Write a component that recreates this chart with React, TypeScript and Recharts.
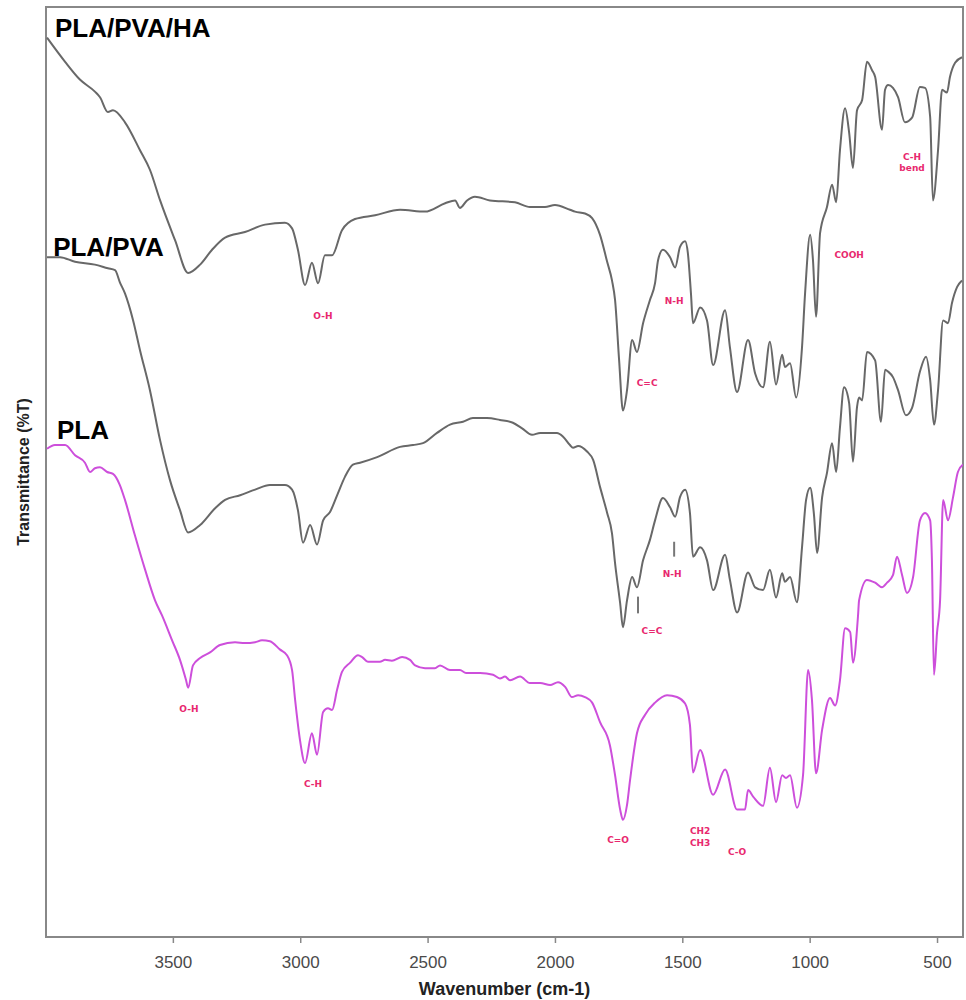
import React from 'react';
import { LineChart, Line, XAxis, YAxis, ReferenceArea, ReferenceDot, ReferenceLine } from 'recharts';

// PLA/PVA/HA spectrum (top)
const wnHA = [3996, 3925, 3867, 3808, 3788, 3757, 3737, 3690, 3631, 3592, 3552, 3493, 3442, 3395, 3348, 3297, 3219, 3140, 3062, 3034, 3011, 2983, 2956, 2932, 2905, 2877, 2838, 2787, 2708, 2610, 2512, 2433, 2394, 2375, 2347, 2316, 2257, 2159, 2100, 2041, 2002, 1943, 1923, 1884, 1856, 1825, 1797, 1778, 1766, 1750, 1735, 1719, 1699, 1680, 1656, 1629, 1609, 1597, 1578, 1550, 1530, 1511, 1491, 1480, 1468, 1460, 1432, 1405, 1381, 1334, 1315, 1287, 1244, 1216, 1185, 1158, 1134, 1110, 1099, 1079, 1055, 1032, 1020, 1000, 989, 977, 961, 934, 914, 898, 883, 863, 847, 832, 816, 796, 777, 757, 745, 718, 706, 694, 675, 655, 628, 600, 569, 549, 529, 518, 498, 482, 463, 451, 431, 404];
const tHA = [96.7, 94.1, 92.2, 90.9, 90.3, 88.7, 88.9, 87.6, 84.6, 82.5, 79.2, 74.9, 71.4, 72.3, 73.9, 75.2, 75.8, 76.6, 76.8, 76.2, 73.9, 70.1, 72.5, 70.3, 73.3, 73.3, 76.0, 77.2, 77.6, 78.2, 78.0, 78.9, 79.2, 78.4, 79.2, 79.6, 79.2, 79.0, 78.5, 78.5, 78.7, 78.2, 78.0, 77.8, 77.3, 75.5, 72.6, 70.6, 68.5, 62.0, 56.6, 58.8, 64.2, 62.9, 66.0, 68.5, 70.3, 72.8, 73.9, 73.1, 72.0, 74.2, 74.8, 73.5, 69.2, 66.0, 67.7, 66.3, 61.5, 67.4, 63.4, 58.6, 64.2, 60.6, 59.1, 64.0, 59.4, 62.6, 61.3, 61.7, 58.0, 63.4, 69.2, 75.5, 72.8, 66.7, 75.7, 78.5, 80.9, 79.0, 84.6, 89.1, 86.5, 82.7, 88.9, 90.0, 94.1, 93.2, 92.5, 86.8, 91.1, 91.6, 91.3, 90.3, 87.6, 88.1, 91.4, 91.3, 88.2, 79.2, 84.6, 91.1, 90.8, 92.5, 94.0, 94.6];

// PLA/PVA spectrum (middle)
const wnPVA = [3996, 3945, 3886, 3808, 3757, 3729, 3710, 3690, 3658, 3631, 3592, 3552, 3513, 3474, 3442, 3395, 3336, 3297, 3238, 3179, 3121, 3062, 3034, 3011, 2991, 2963, 2936, 2912, 2885, 2854, 2826, 2795, 2767, 2700, 2610, 2559, 2520, 2465, 2414, 2363, 2324, 2269, 2218, 2167, 2131, 2092, 2060, 1994, 1970, 1943, 1931, 1911, 1876, 1852, 1825, 1797, 1778, 1766, 1746, 1735, 1719, 1699, 1680, 1656, 1629, 1609, 1578, 1550, 1530, 1511, 1491, 1472, 1460, 1432, 1405, 1381, 1334, 1315, 1287, 1244, 1216, 1185, 1158, 1134, 1110, 1099, 1079, 1052, 1032, 1016, 1000, 985, 973, 953, 934, 914, 898, 883, 867, 847, 832, 816, 808, 796, 777, 745, 722, 706, 694, 675, 655, 624, 600, 569, 545, 529, 514, 498, 478, 459, 443, 423, 404];
const tPVA = [73.1, 73.1, 72.6, 72.3, 71.9, 71.7, 70.4, 69.2, 66.3, 63.1, 58.8, 53.4, 49.1, 45.9, 43.5, 44.3, 46.1, 47.0, 47.5, 48.1, 48.6, 48.6, 48.1, 45.9, 42.4, 44.3, 42.2, 44.8, 45.7, 47.7, 49.5, 50.8, 51.0, 51.6, 52.7, 52.9, 53.1, 54.2, 55.1, 55.4, 55.8, 55.8, 55.6, 55.3, 54.7, 54.0, 54.2, 54.2, 53.8, 52.9, 52.6, 52.8, 52.2, 51.3, 48.4, 45.6, 43.4, 40.2, 35.9, 33.3, 36.2, 38.7, 37.6, 40.5, 42.7, 44.8, 47.2, 46.2, 45.2, 47.3, 48.1, 45.6, 40.9, 41.9, 40.5, 37.3, 41.1, 38.4, 34.9, 39.2, 37.6, 37.3, 39.5, 36.5, 39.1, 38.2, 38.7, 36.0, 41.9, 47.0, 48.3, 45.4, 41.3, 47.3, 49.9, 53.1, 50.0, 54.8, 59.1, 57.4, 51.1, 57.0, 58.0, 57.7, 62.9, 62.0, 55.4, 61.0, 60.8, 60.2, 58.8, 56.1, 56.9, 60.8, 62.4, 59.9, 55.1, 58.8, 66.3, 66.0, 68.2, 69.9, 70.6];

// PLA spectrum (bottom)
const wnPLA = [3996, 3965, 3925, 3886, 3847, 3827, 3808, 3788, 3760, 3737, 3710, 3690, 3651, 3611, 3572, 3545, 3505, 3474, 3450, 3442, 3423, 3395, 3356, 3317, 3258, 3219, 3179, 3152, 3121, 3081, 3054, 3034, 3022, 3003, 2983, 2956, 2936, 2912, 2893, 2877, 2857, 2838, 2806, 2775, 2759, 2736, 2689, 2669, 2642, 2602, 2571, 2551, 2512, 2473, 2453, 2414, 2375, 2351, 2296, 2245, 2218, 2198, 2178, 2139, 2100, 2060, 2021, 1990, 1962, 1935, 1911, 1884, 1856, 1825, 1786, 1766, 1746, 1735, 1719, 1707, 1680, 1648, 1609, 1562, 1523, 1491, 1472, 1460, 1432, 1381, 1334, 1287, 1256, 1244, 1224, 1185, 1158, 1134, 1110, 1095, 1079, 1052, 1028, 1008, 993, 977, 953, 922, 902, 883, 863, 843, 832, 812, 808, 777, 745, 718, 698, 675, 659, 639, 620, 596, 569, 549, 529, 522, 514, 502, 490, 478, 459, 439, 420, 400];
const tPLA = [52.5, 52.9, 52.9, 51.8, 51.0, 50.0, 50.4, 50.5, 50.0, 49.8, 48.6, 47.0, 43.2, 39.5, 36.2, 34.6, 31.9, 29.8, 27.6, 26.8, 29.2, 30.0, 30.6, 31.4, 31.7, 31.6, 31.7, 31.9, 31.8, 30.9, 30.3, 28.7, 25.5, 21.2, 18.7, 21.9, 19.6, 24.2, 24.6, 24.4, 26.6, 28.5, 29.5, 30.3, 30.1, 29.6, 29.6, 29.8, 29.7, 30.1, 29.8, 29.2, 28.9, 28.9, 29.2, 28.7, 28.7, 28.4, 28.4, 28.2, 27.8, 28.0, 27.6, 28.0, 27.3, 27.3, 27.1, 27.4, 26.9, 25.8, 26.0, 25.8, 25.2, 23.1, 20.6, 17.4, 13.7, 12.6, 14.2, 16.9, 21.9, 23.9, 25.2, 26.0, 25.8, 25.1, 22.8, 17.7, 20.1, 15.3, 18.0, 13.7, 13.7, 15.8, 15.1, 14.1, 18.2, 14.5, 17.4, 17.1, 17.4, 13.9, 17.4, 28.7, 25.5, 17.6, 22.3, 25.7, 24.9, 27.6, 33.2, 32.8, 29.5, 34.6, 36.2, 38.4, 38.1, 37.6, 38.1, 38.9, 40.9, 38.9, 37.0, 38.7, 44.8, 45.6, 44.8, 40.5, 28.2, 32.7, 36.2, 47.0, 44.8, 47.3, 50.0, 50.8];

const xTicks = [3500, 3000, 2500, 2000, 1500, 1000, 500];

// Curve names
const seriesNames = ['PLA/PVA/HA', 'PLA/PVA', 'PLA'];
const nameWn = [3965, 3972, 3957];
const nameT = [97.8, 74.2, 54.5];

// Band annotations
const bandText = ['O-H', 'N-H', 'C=C', 'COOH', 'C-H', 'bend', 'N-H', 'C=C', 'O-H', 'C-H', 'C=O', 'CH2', 'CH3', 'C-O'];
const bandWn = [2913, 1534, 1640, 847, 600, 600, 1542, 1621, 3439, 2952, 1754, 1432, 1432, 1287];
const bandT = [66.8, 68.4, 59.6, 73.4, 83.9, 82.7, 39.0, 32.9, 24.5, 16.5, 10.4, 11.4, 10.1, 9.2];

// Small marker segments
const markWn = [1534, 1676];
const markT1 = [40.9, 34.8];
const markT2 = [42.5, 36.6];

const zip = (w: number[], t: number[]) => w.map((wn, i) => ({ wn, t: t[i] }));
const dataHA = zip(wnHA, tHA);
const dataPVA = zip(wnPVA, tPVA);
const dataPLA = zip(wnPLA, tPLA);

const GRAY = '#686868';
const MAGENTA = '#cd4fdb';
const PINK = '#e8286e';

export default function App() {
  return (
    <div style={{ position: 'absolute', left: 0, top: 0, width: 966, height: 1000, background: '#fff', fontFamily: '"Liberation Sans", Arial, sans-serif' }}>
      <LineChart width={966} height={1000} margin={{ top: 7, right: 3, bottom: 0, left: 0 }}>
        <XAxis
          type="number"
          dataKey="wn"
          domain={[400, 4000]}
          reversed
          allowDataOverflow
          ticks={xTicks}
          height={63}
          axisLine={false}
          tickLine={{ stroke: '#888', strokeWidth: 1.5 }}
          tickSize={6}
          tickMargin={13}
          tick={{ fill: '#4a4a4a', fontSize: 17 }}
          label={{ value: 'Wavenumber (cm-1)', position: 'insideBottom', offset: 5, fill: '#222', fontSize: 18, fontWeight: 'bold' }}
        />
        <YAxis
          type="number"
          domain={[0, 100]}
          width={46}
          tick={false}
          axisLine={false}
          tickLine={false}
          label={{ value: 'Transmittance (%T)', angle: -90, position: 'center', fill: '#222', fontSize: 16, fontWeight: 'bold' }}
        />
        <ReferenceArea x1={4000} x2={400} y1={0} y2={100} fill="none" stroke="#888" strokeWidth={2} />
        <Line data={dataHA} dataKey="t" type="monotone" dot={false} stroke={GRAY} strokeWidth={2} isAnimationActive={false} />
        <Line data={dataPVA} dataKey="t" type="monotone" dot={false} stroke={GRAY} strokeWidth={2} isAnimationActive={false} />
        <Line data={dataPLA} dataKey="t" type="monotone" dot={false} stroke={MAGENTA} strokeWidth={2} isAnimationActive={false} />
        {markWn.map((w, i) => (
          <ReferenceLine key={'m' + i} segment={[{ x: w, y: markT1[i] }, { x: w, y: markT2[i] }]} stroke="#777" strokeWidth={2} />
        ))}
        {seriesNames.map((n, i) => (
          <ReferenceDot
            key={'n' + i}
            x={nameWn[i]}
            y={nameT[i]}
            r={0.01}
            fill="none"
            stroke="none"
            label={{ value: n, position: 'right', offset: 0, fill: '#000', fontSize: 26, fontWeight: 'bold' }}
          />
        ))}
        {bandText.map((b, i) => (
          <ReferenceDot
            key={'b' + i}
            x={bandWn[i]}
            y={bandT[i]}
            r={0.01}
            fill="none"
            stroke="none"
            label={{ value: b, position: 'center', fill: PINK, fontSize: 9, fontWeight: 'bold', fontFamily: '"DejaVu Sans", sans-serif' }}
          />
        ))}
      </LineChart>
    </div>
  );
}
